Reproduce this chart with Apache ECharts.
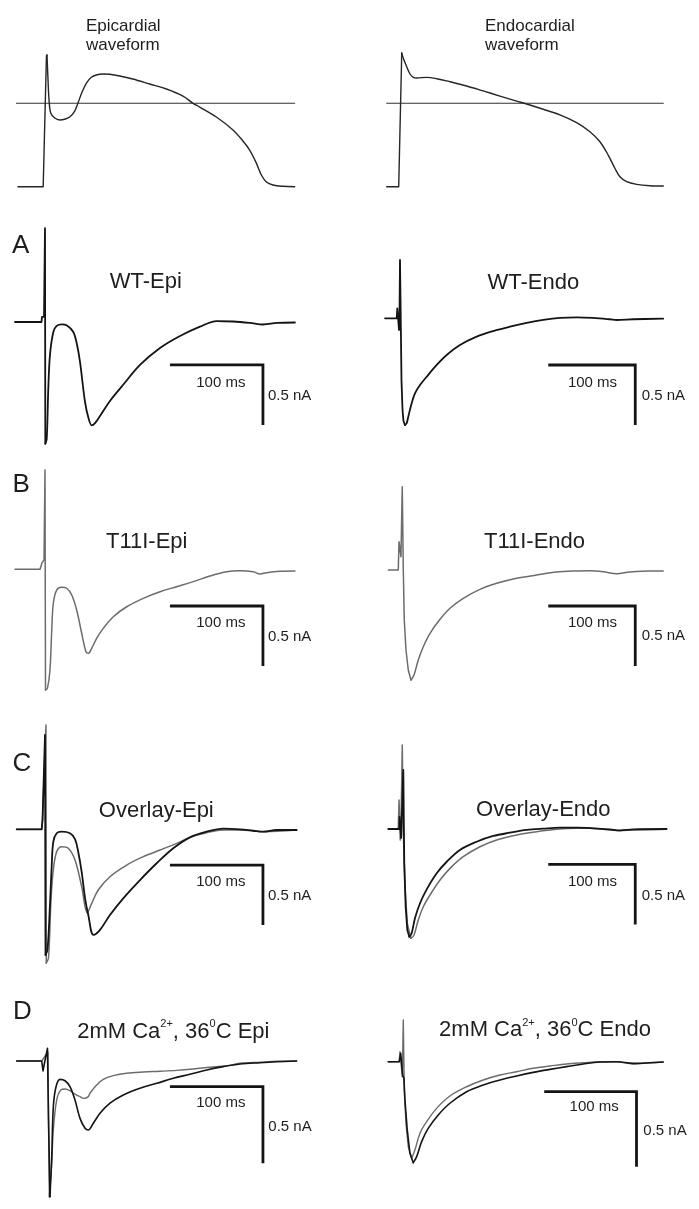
<!DOCTYPE html>
<html><head><meta charset="utf-8">
<script src="https://cdn.jsdelivr.net/npm/echarts@6/dist/echarts.min.js"></script>
<style>html,body{margin:0;padding:0;background:#fff}#c{width:699px;height:1209px}</style>
</head><body><div id="c"></div>
<script>
// ---------- Action potential command waveforms (ms, mV) ----------
const apEpiT = [-26.9, 0.2, 3.7, 4.3, 5.4, 6.5, 8.3, 12.6, 18, 23.3, 28.7, 34.1, 37.6, 41.6, 46.7, 52, 57.4, 64.5, 71.7, 82.5, 96.5, 114.7, 132.7, 150.5, 161.3, 168.5, 186.4, 204.3, 215, 222.2, 229.4, 234.8, 240.2, 247.3, 258, 270.6];
const apEpiV = [-85.1, -85.1, 48.3, 49.3, 23.8, 3.4, -9.9, -15, -17, -16.3, -14, -7.9, 0.3, 10.5, 20.7, 26.5, 28.9, 29.9, 29.6, 27.9, 24.8, 19.7, 14.6, 7.4, 0, -3.8, -14, -27.2, -38.5, -47.7, -61, -73.2, -80.3, -83.4, -84.7, -85.1];
const apEndoT = [-15.3, -1.5, 2.0, 3.8, 7.7, 11.5, 15.3, 19.2, 30.7, 42.2, 57.5, 76.6, 95.7, 114.9, 134.1, 145.6, 164.7, 183.9, 203, 218.3, 229.8, 239.3, 247, 252.8, 260.5, 272, 287.3, 302.6];
const apEndoV = [-85.1, -85.1, 51.3, 45.9, 37.3, 29.9, 26.5, 25.8, 26.5, 25.1, 22, 17.7, 12.6, 7.4, 2.3, -0.7, -6.1, -11.9, -19.8, -29, -39.2, -52.8, -66.3, -74.9, -80, -82.7, -84.1, -84.4];
const apZeroEpiT = [-28.6, 270.6];
const apZeroEndoT = [-15.3, 302.6];

// ---------- Currents (ms, nA) ----------
// A: WT
const wtEpiT = [-30.1, -1.6, -1.1, 1.1, 2.15, 2.5, 4.0, 5.7, 7.5, 11.1, 14.7, 20.1, 25.8, 32.6, 36.6, 39.8, 45.2, 48.9, 52.4, 55.9, 61.3, 72, 86, 104.3, 125.8, 147.3, 168.8, 186.7, 204.3, 222.5, 236.5, 251.6, 270.9];
const wtEpiI = [0, 0, 0.042, 0.042, 0.783, -1.014, -0.975, -0.556, -0.275, -0.083, -0.033, -0.019, -0.029, -0.083, -0.19, -0.333, -0.667, -0.8, -0.861, -0.842, -0.783, -0.658, -0.525, -0.358, -0.217, -0.117, -0.039, 0.008, 0.004, -0.008, -0.021, -0.008, -0.004];
const wtEndoT = [-17.2, -3.8, -3.1, -1.5, -1.1, -0.6, 0, 0.6, 1.7, 2.9, 4.0, 5.7, 7.7, 9.5, 13.4, 17.2, 23, 30.7, 42.2, 53.7, 68.9, 88.1, 107.2, 126.4, 145.6, 164.7, 183.9, 203, 222.1, 241.3, 249, 268.1, 302.5];
const wtEndoI = [0, 0, 0.082, 0.082, -0.098, 0, 0.486, 0.153, -0.514, -0.764, -0.856, -0.889, -0.873, -0.82, -0.708, -0.625, -0.556, -0.487, -0.389, -0.306, -0.223, -0.153, -0.106, -0.07, -0.039, -0.014, 0.003, 0.008, 0.003, -0.008, -0.014, -0.008, -0.003];
// B: T11I
const t11iEpiT = [-30.1, -3.2, -1.1, 1.1, 2.15, 2.7, 4.8, 7.5, 9.4, 11.1, 14.7, 20.1, 25.5, 30.9, 36.2, 41.6, 46.2, 48.7, 52.4, 57.7, 64.8, 75.6, 90, 107.8, 125.8, 143.7, 161.6, 179.5, 197.5, 211.8, 226.1, 233.3, 240.5, 254.8, 270.9];
const t11iEpiI = [0, 0, 0.053, 0.078, 0.828, -1.006, -0.99, -0.839, -0.506, -0.283, -0.173, -0.15, -0.158, -0.214, -0.339, -0.533, -0.687, -0.7, -0.658, -0.575, -0.492, -0.395, -0.312, -0.242, -0.187, -0.145, -0.103, -0.056, -0.02, -0.012, -0.02, -0.039, -0.028, -0.017, -0.014];
const t11iEndoT = [-13.4, -2, -1.1, 0.8, 1.1, 2.6, 3.8, 4.9, 6.9, 9.5, 12.6, 16.1, 21, 26.8, 34.5, 46, 57.5, 72.7, 91.9, 111.1, 134.1, 157.1, 180, 203, 218.3, 233.6, 249, 264.3, 287.3, 302.5];
const t11iEndoI = [0, 0, 0.236, 0.236, 0.111, 0.694, 0, -0.417, -0.667, -0.833, -0.917, -0.875, -0.75, -0.639, -0.528, -0.411, -0.319, -0.236, -0.161, -0.111, -0.069, -0.042, -0.017, -0.008, -0.006, -0.014, -0.031, -0.017, -0.008, -0.008];
// C: overlay
const ovEpiWtT = [-28.3, -1.4, -0.5, 1.6, 2.15, 2.7, 4.8, 7.5, 9.4, 11.1, 14.7, 20.1, 29, 34.4, 37.9, 41.6, 45.2, 48.7, 54.3, 61.3, 72, 86.3, 104.3, 122.2, 140.1, 158, 176, 193.8, 211.8, 226.1, 236.8, 251.2, 272.7];
const ovEpiWtI = [0, 0, 0.083, 0.083, 0.786, -1.047, -1.006, -0.63, -0.297, -0.103, -0.033, -0.02, -0.033, -0.081, -0.189, -0.356, -0.573, -0.714, -0.88, -0.838, -0.714, -0.575, -0.423, -0.283, -0.158, -0.067, -0.02, 0.005, 0, -0.012, -0.02, -0.006, -0.006];
const ovEpiMutT = [-28.3, -1.4, -0.5, 1.6, 3.2, 3.5, 5.9, 8.6, 11.1, 14.7, 20.1, 27.2, 34.4, 41.6, 47.6, 52.4, 59.4, 72, 90, 107.8, 125.8, 143.7, 158, 176, 193.8, 211.8, 236.8, 272.7];
const ovEpiMutI = [0, 0, 0.083, 0.083, 0.869, -1.114, -1.073, -0.589, -0.339, -0.187, -0.145, -0.158, -0.256, -0.478, -0.695, -0.617, -0.506, -0.395, -0.298, -0.228, -0.173, -0.117, -0.067, -0.028, -0.006, -0.006, -0.02, -0.006];
const ovEndoWtT = [-13.4, -0.8, -0.5, 0.9, 1.3, 1.7, 3.8, 4.9, 6.5, 8.4, 10.7, 13.4, 17.2, 23, 30.7, 42.2, 53.7, 68.9, 88.1, 107.2, 126.4, 145.6, 164.7, 183.9, 203, 222.1, 241.3, 252.8, 268.1, 306.4];
const ovEndoWtI = [0, 0, 0.1, 0.1, -0.075, 0, 0.492, -0.286, -0.648, -0.842, -0.898, -0.869, -0.744, -0.619, -0.503, -0.369, -0.273, -0.175, -0.106, -0.058, -0.031, -0.008, 0.003, 0.011, 0.011, 0.006, -0.003, -0.011, -0.003, 0];
const ovEndoMutT = [-13.4, -2, -1.1, 0, 0.3, 1.1, 2.6, 3.8, 5.7, 8.4, 12.6, 16.1, 21, 26.8, 34.5, 46, 57.5, 72.7, 91.9, 111.1, 134.1, 157.1, 180, 203, 218.3, 241.3, 252.8, 268.1, 306.4];
const ovEndoMutI = [0, 0, 0.242, 0.242, -0.092, 0, 0.7, -0.008, -0.481, -0.786, -0.911, -0.883, -0.758, -0.648, -0.55, -0.425, -0.328, -0.231, -0.148, -0.092, -0.05, -0.023, -0.003, 0.006, 0.006, -0.008, -0.014, -0.008, -0.003];
// D: 2 mM Ca2+, 36 C
const caEpiWtT = [-28.3, -1.4, 0, 1.6, 4.8, 5.9, 7.5, 9.4, 11.1, 14, 18.3, 23.7, 29, 34.4, 39.8, 45.2, 48.7, 54.1, 61.3, 72, 86.3, 104.3, 122.2, 140.1, 158, 176, 193.8, 211.8, 233.3, 251.2, 272.7];
const caEpiWtI = [0, 0, -0.065, -0.013, 0.083, -0.386, -0.887, -0.625, -0.299, -0.168, -0.12, -0.129, -0.168, -0.255, -0.375, -0.44, -0.451, -0.407, -0.342, -0.276, -0.222, -0.178, -0.146, -0.113, -0.087, -0.059, -0.037, -0.02, -0.011, -0.005, 0];
const caEpiMutT = [-28.3, -1.4, 5.3, 6.8, 9.4, 11.1, 14.7, 19, 23.7, 29, 34.4, 39.8, 44.1, 48.7, 50.5, 57.7, 64.8, 75.6, 90, 107.8, 125.8, 143.7, 161.6, 179.5, 197.5, 211.8, 233.3, 251.2, 272.7];
const caEpiMutI = [0, 0, 0.059, -0.887, -0.669, -0.451, -0.255, -0.19, -0.183, -0.194, -0.216, -0.233, -0.244, -0.233, -0.211, -0.157, -0.12, -0.096, -0.08, -0.072, -0.067, -0.061, -0.052, -0.041, -0.031, -0.015, -0.008, -0.002, 0];
const caEndoWtT = [-12.7, -0.8, 0.8, 2.2, 2.9, 4.3, 5.4, 7.9, 10.8, 14.4, 18.1, 23.5, 30.6, 41.5, 54.1, 72.2, 90.2, 108.3, 126.4, 144.4, 162.5, 180.5, 198.6, 216.6, 234.7, 252.7, 270.8, 285.2];
const caEndoWtI = [0, 0, 0.056, 0.056, -0.089, -0.111, -0.255, -0.455, -0.611, -0.673, -0.633, -0.533, -0.444, -0.355, -0.277, -0.2, -0.155, -0.122, -0.095, -0.071, -0.051, -0.033, -0.015, -0.002, 0, -0.011, -0.007, -0.002];
const caEndoMutT = [-12.7, -0.8, 0, 1.8, 2.5, 3.6, 4.7, 6.5, 9, 12.7, 16.2, 21.7, 28.9, 39.7, 54.1, 72.2, 90.2, 108.3, 126.4, 144.4, 162.5, 180.5, 198.6, 216.6, 234.7, 252.7, 270.8, 285.2];
const caEndoMutI = [0, 0, 0.067, 0.067, -0.1, 0.278, -0.189, -0.411, -0.567, -0.644, -0.589, -0.477, -0.4, -0.311, -0.229, -0.167, -0.122, -0.089, -0.067, -0.044, -0.029, -0.015, -0.007, 0, 0, -0.015, -0.007, -0.002];

// ---------- Scale bars (100 ms, 0.5 nA) ----------
const barMs = 100, barNa = 0.5;
const barStartT = [136.5, 170.4, 136.5, 170.4, 136.5, 170.4, 136.5, 156.3];
const barLevelI = [-0.358, -0.389, -0.306, -0.3, -0.298, -0.295, -0.168, -0.2];

// ---------- Text ----------
const panelTitles = ['WT-Epi', 'WT-Endo', 'T11I-Epi', 'T11I-Endo', 'Overlay-Epi', 'Overlay-Endo',
  '2mM Ca{s|2+}, 36{s|0}C Epi', '2mM Ca{s|2+}, 36{s|0}C Endo'];
const panelLetters = ['A', 'B', 'C', 'D'];

const BLACK = '#141414', GREY = '#6c6c6c', FONT = '"Liberation Sans", Arial, sans-serif';

// ---------- Layout ----------
const colL = {left: 15.1, width: 306.9, min: -30, max: 300};
const colR = {left: 382.6, width: 295.8, min: -20, max: 320};
const colRD = {left: 381.5, width: 313.8, min: -20, max: 320};
const layouts = [
  [colL, {top: 44.5, height: 156.8, min: -100, max: 60}],
  [colR, {top: 44.5, height: 156.8, min: -100, max: 60}],
  [colL, {top: 214, height: 252, min: -1.2, max: 0.9}],
  [colR, {top: 210.3, height: 252, min: -1.2, max: 0.9}],
  [colL, {top: 461.3, height: 252, min: -1.2, max: 0.9}],
  [colR, {top: 462, height: 252, min: -1.2, max: 0.9}],
  [colL, {top: 721.3, height: 252, min: -1.2, max: 0.9}],
  [colR, {top: 721, height: 252, min: -1.2, max: 0.9}],
  [colL, {top: 984.5, height: 260.1, min: -1.2, max: 0.5}],
  [colRD, {top: 986.7, height: 255, min: -1.2, max: 0.5}]
];
const grid = [], xAxis = [], yAxis = [];
layouts.forEach(([cx, cy], i) => {
  grid.push({left: cx.left, width: cx.width, top: cy.top, height: cy.height, outerBoundsMode: 'none', containLabel: false, show: false});
  xAxis.push({type: 'value', gridIndex: i, min: cx.min, max: cx.max, show: false});
  yAxis.push({type: 'value', gridIndex: i, min: cy.min, max: cy.max, show: false});
});

function zip(ts, vs) { return ts.map((t, k) => [t, vs[k]]); }
function line(g, data, color, width, smooth) {
  return {type: 'line', xAxisIndex: g, yAxisIndex: g, data: data, symbol: 'none', showSymbol: false,
    smooth: smooth, clip: false, silent: true, animation: false,
    lineStyle: {color: color, width: width, join: 'round', cap: 'round'}};
}
// Fast stimulus-artefact part drawn straight; the slower current after the
// extreme point (spike bottom / peak) is drawn with a smoothed line.
function trace(g, ts, vs, color, width, useMax) {
  const data = zip(ts, vs);
  let k = 0;
  vs.forEach((v, i) => { if (useMax ? v > vs[k] : v < vs[k]) k = i; });
  return [line(g, data.slice(0, k + 1), color, width, false),
          line(g, data.slice(k), color, width, 0.35)];
}
const series = [].concat(
  [line(0, zip(apZeroEpiT, [0, 0]), '#333', 1.1, false)],
  trace(0, apEpiT, apEpiV, '#262626', 1.4, true),
  [line(1, zip(apZeroEndoT, [0, 0]), '#333', 1.1, false)],
  trace(1, apEndoT, apEndoV, '#262626', 1.4, true),
  trace(2, wtEpiT, wtEpiI, BLACK, 1.8),
  trace(3, wtEndoT, wtEndoI, BLACK, 1.8),
  trace(4, t11iEpiT, t11iEpiI, GREY, 1.5),
  trace(5, t11iEndoT, t11iEndoI, GREY, 1.5),
  trace(6, ovEpiMutT, ovEpiMutI, GREY, 1.5),
  trace(6, ovEpiWtT, ovEpiWtI, BLACK, 1.8),
  trace(7, ovEndoMutT, ovEndoMutI, GREY, 1.5),
  trace(7, ovEndoWtT, ovEndoWtI, BLACK, 1.8),
  trace(8, caEpiMutT, caEpiMutI, GREY, 1.4),
  trace(8, caEpiWtT, caEpiWtI, BLACK, 1.6),
  trace(9, caEndoMutT, caEndoMutI, GREY, 1.4),
  trace(9, caEndoWtT, caEndoWtI, BLACK, 1.6)
);
barStartT.forEach((s, i) => {
  const lv = barLevelI[i];
  const bar = line(i + 2, [[s, lv], [s + barMs, lv], [s + barMs, lv - barNa]], BLACK, 2.8, false);
  bar.lineStyle.join = 'miter'; bar.lineStyle.cap = 'butt';
  series.push(bar);
});

// ---------- Text graphics ----------
function txt(x, y, text, size, align, extra) {
  const st = {text: text, fill: '#1e1e1e', font: size + 'px ' + FONT, fontSize: size, fontFamily: FONT,
    textAlign: align, align: align, textVerticalAlign: 'middle', verticalAlign: 'middle'};
  if (extra) Object.assign(st, extra);
  return {type: 'text', x: x, y: y, z: 100, silent: true, style: st};
}
const supRich = {s: {fontSize: 11, fontFamily: FONT, fill: '#1e1e1e', color: '#1e1e1e', verticalAlign: 'top', lineHeight: 12}};
const graphic = [
  txt(86, 26, 'Epicardial', 17, 'left'), txt(86, 45.5, 'waveform', 17, 'left'),
  txt(485, 26, 'Endocardial', 17, 'left'), txt(485, 45.5, 'waveform', 17, 'left'),
  txt(12, 246, panelLetters[0], 26, 'left'), txt(12.5, 485, panelLetters[1], 26, 'left'),
  txt(12.5, 764, panelLetters[2], 26, 'left'), txt(13, 1012, panelLetters[3], 26, 'left'),
  txt(145.8, 281.7, panelTitles[0], 22, 'center'), txt(533.3, 283.3, panelTitles[1], 22, 'center'),
  txt(146.7, 541.7, panelTitles[2], 22, 'center'), txt(534.5, 541.7, panelTitles[3], 22, 'center'),
  txt(156.3, 811, panelTitles[4], 22, 'center'), txt(543.3, 810, panelTitles[5], 22, 'center'),
  txt(173.3, 1031.7, panelTitles[6], 22, 'center', {rich: supRich, lineHeight: 26}),
  txt(545, 1030, panelTitles[7], 22, 'center', {rich: supRich, lineHeight: 26})
];
const msPos = [[220.8, 382.7], [592.5, 382.7], [220.8, 623.3], [592.5, 623.3], [220.8, 881.7], [592.5, 881.7], [220.8, 1103.3], [594.2, 1107.3]];
const naPos = [[268, 396], [641.7, 395.7], [268, 636.7], [641.7, 635.7], [268, 895.7], [641.7, 895.7], [268.3, 1126.7], [643.3, 1130.7]];
msPos.forEach(p => graphic.push(txt(p[0], p[1], barMs + ' ms', 15, 'center')));
naPos.forEach(p => graphic.push(txt(p[0], p[1], barNa + ' nA', 15, 'left')));

const chart = echarts.init(document.getElementById('c'), null, {renderer: 'canvas'});
chart.setOption({animation: false, backgroundColor: '#fff', grid, xAxis, yAxis, series, graphic});
</script></body></html>
